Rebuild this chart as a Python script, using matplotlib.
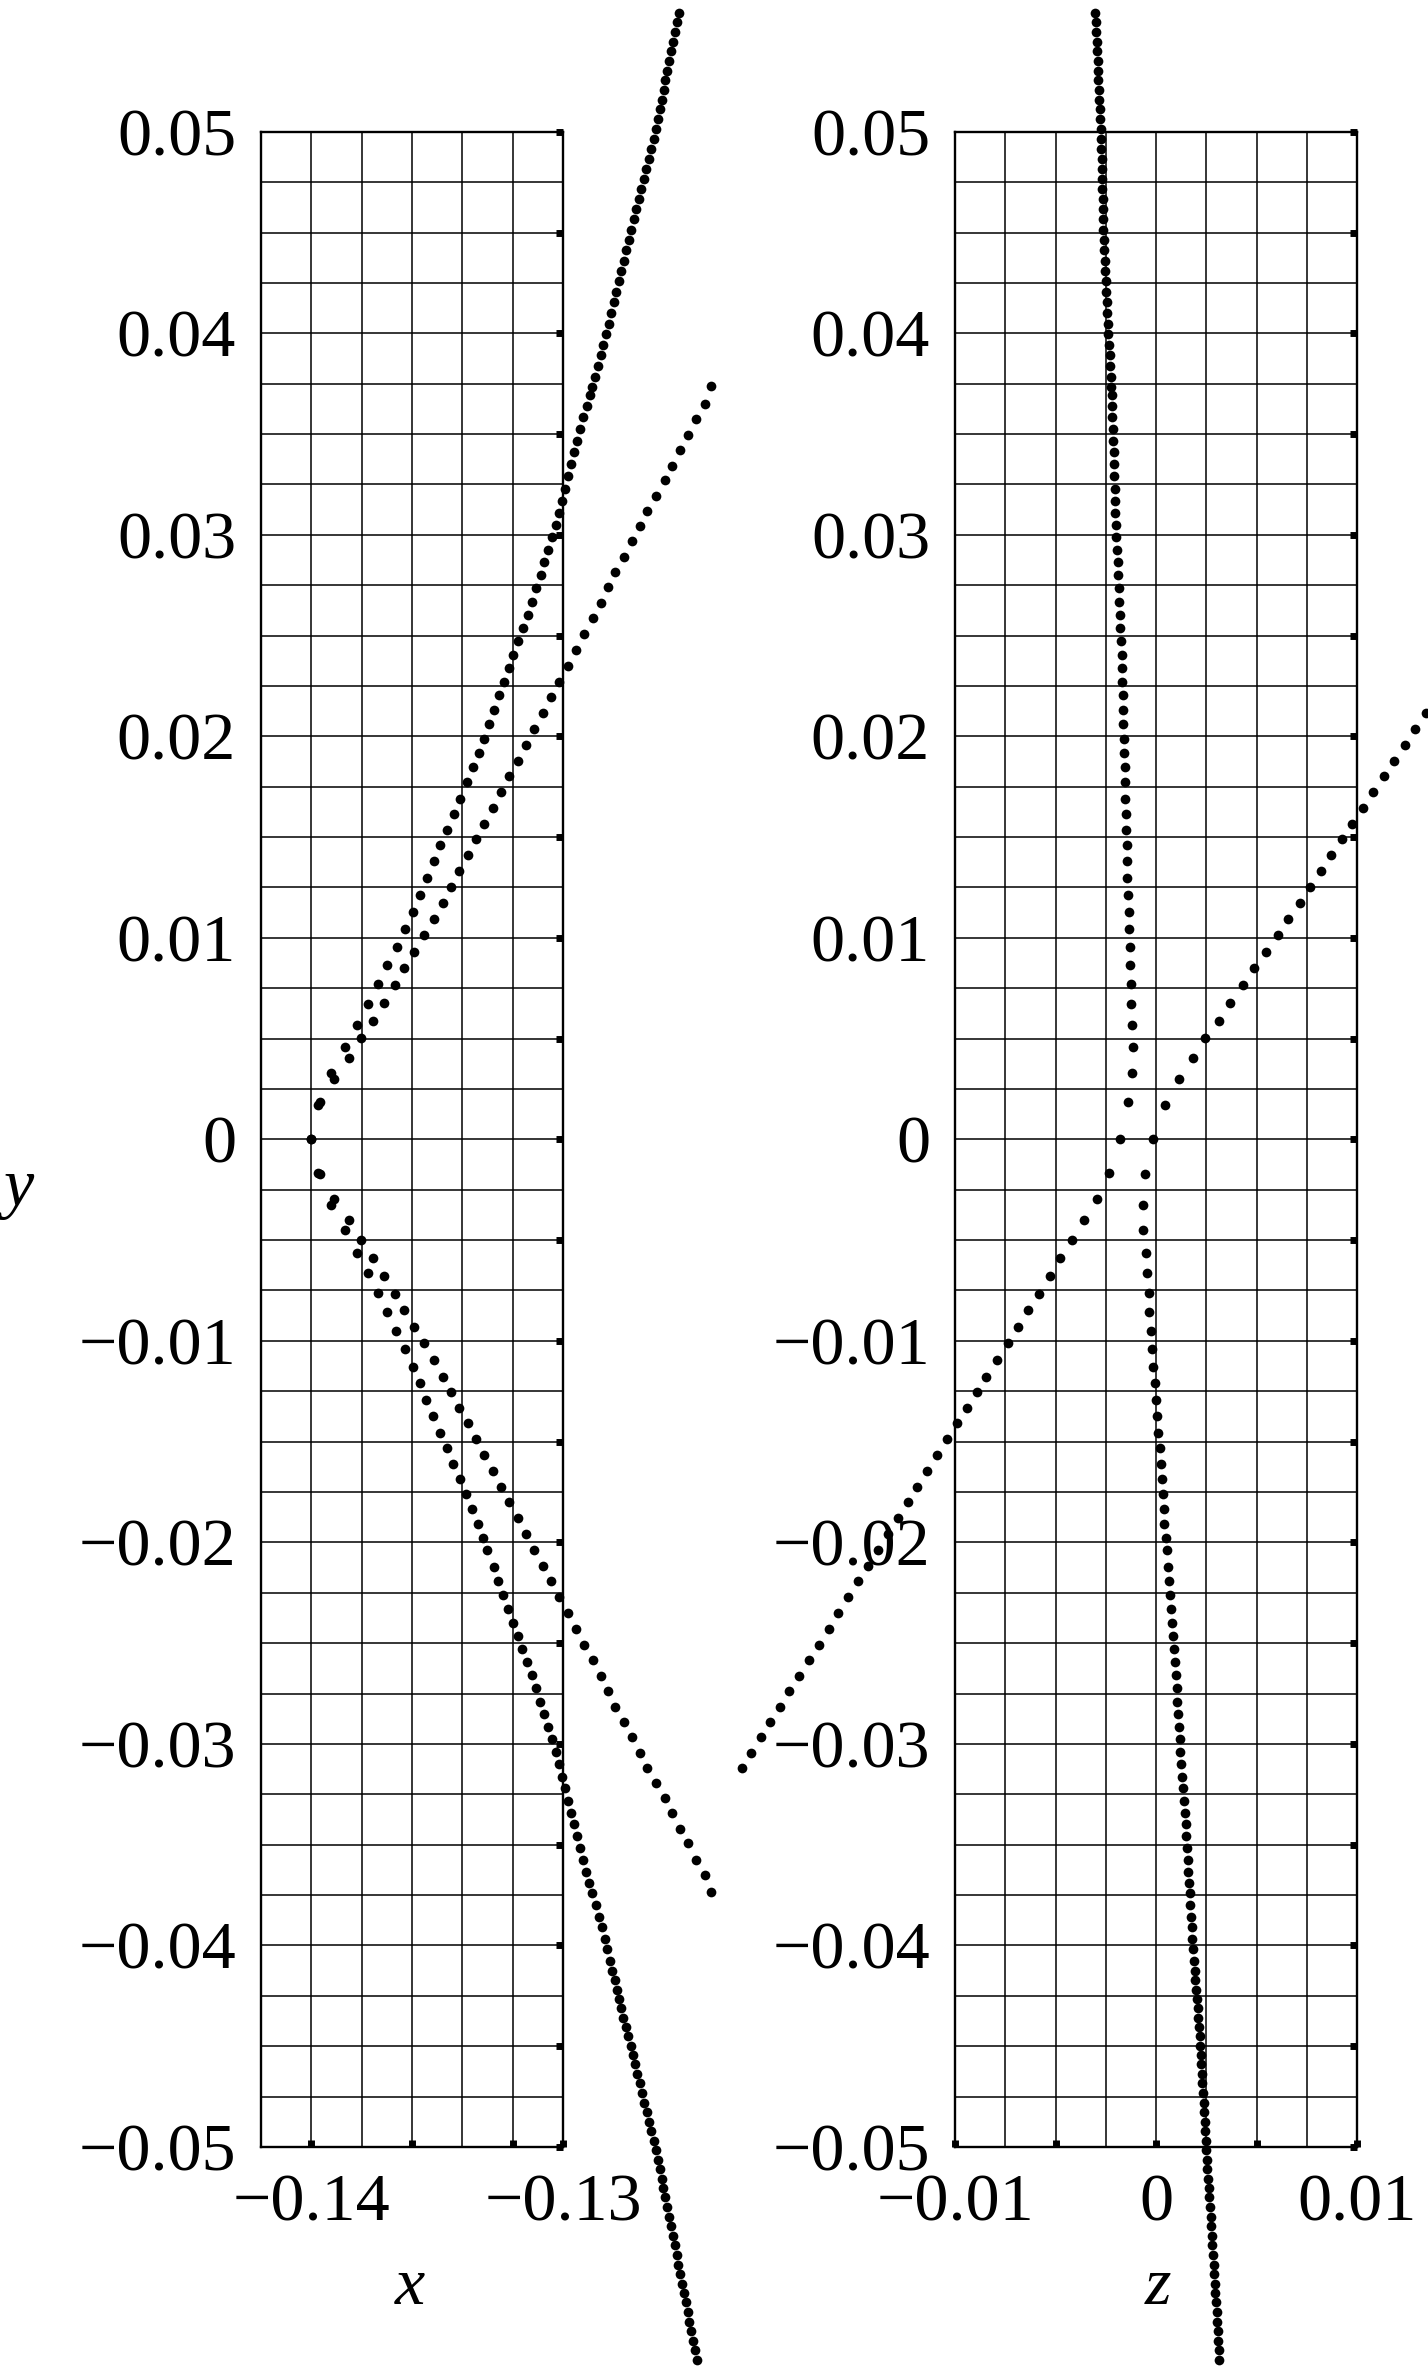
#!/usr/bin/env python3
"""
Two projections of the dotted curves: (x, y) on the left, (z, y) on the right
"""
import numpy as np
import matplotlib
matplotlib.use("Agg")
import matplotlib.pyplot as plt
from matplotlib.ticker import FixedLocator

nan = np.nan

# Dense branch, upper half (top to bottom)
A_UP_Y = [0.05591, 0.05544, 0.05496, 0.05448, 0.05400, 0.05352, 0.05304, 0.05256, 0.05209, 0.05160,
          0.05111, 0.05065, 0.05016, 0.04965, 0.04916, 0.04866, 0.04816, 0.04767, 0.04717, 0.04667,
          0.04618, 0.04565, 0.04515, 0.04465, 0.04412, 0.04361, 0.04310, 0.04258, 0.04206, 0.04154,
          0.04102, 0.04048, 0.03995, 0.03943, 0.03890, 0.03836, 0.03785, 0.03734,
          0.03696, 0.03641, 0.03585, 0.03526, 0.03468, 0.03409, 0.03352, 0.03290, 0.03229, 0.03170,
          0.03109, 0.03047, 0.02988, 0.02926, 0.02863, 0.02801, 0.02734, 0.02668, 0.02602, 0.02538,
          0.02471, 0.02405, 0.02337, 0.02270, 0.02203, 0.02132, 0.02061, 0.01988, 0.01917, 0.01846,
          0.01771,
          0.01690, 0.01616, 0.01536, 0.01459, 0.01381, 0.01298, 0.01215, 0.01129, 0.01045, 0.00957,
          0.00865, 0.00772, 0.00673, 0.00565, 0.00458, 0.00329, 0.00183, 0.0]
A_UP_X = [-0.12541, -0.12548, -0.12556, -0.12563, -0.12571, -0.12578, -0.12586, -0.12593, -0.12600,
          -0.12608, -0.12616, -0.12623, -0.12630,
          -0.12640, -0.12650, -0.12660, -0.12670, -0.12679, -0.12689, -0.12699, -0.12709, -0.12719,
          -0.12729, -0.12739,
          -0.12749, -0.12759, -0.12769, -0.12779, -0.12788, -0.12798, -0.12808, -0.12818, -0.12828,
          -0.12840, -0.12851, -0.12863, -0.12875, -0.12886, -0.12894, -0.12906, -0.12919, -0.12932,
          -0.12944, -0.12956, -0.12967, -0.12980, -0.12992, -0.13004, -0.13016, -0.13028,
          -0.13043, -0.13058, -0.13074, -0.13089, -0.13106, -0.13122,
          -0.13141, -0.13159, -0.13178, -0.13197, -0.13216, -0.13235, -0.13254, -0.13274, -0.13294,
          -0.13315, -0.13335,
          -0.13358, -0.13383, -0.13410, -0.13435, -0.13462, -0.13487, -0.13513, -0.13541, -0.13569,
          -0.13597,
          -0.13629, -0.13660, -0.13698, -0.13734, -0.13774, -0.13819, -0.13865, -0.13923, -0.13964,
          -0.14000]
A_UP_Z = [-0.00303, -0.00301, -0.00298, -0.00296, -0.00294, -0.00291, -0.00289, -0.00287, -0.00284,
          -0.00282, -0.00280, -0.00277, -0.00275,
          -0.00274, -0.00273, -0.00271, -0.00270, -0.00269, -0.00267, -0.00266, -0.00265, -0.00264,
          -0.00262, -0.00260, -0.00258, -0.00255, -0.00253, -0.00250, -0.00247, -0.00245, -0.00242,
          -0.00239, -0.00237, -0.00234, -0.00231, -0.00229, -0.00226, -0.00223,
          -0.00221, -0.00219, -0.00217, -0.00215, -0.00213, -0.00211, -0.00209, -0.00207, -0.00205,
          -0.00203, -0.00202, -0.00199, -0.00197, -0.00194, -0.00191, -0.00188, -0.00186, -0.00183,
          -0.00180, -0.00177, -0.00174, -0.00171, -0.00169, -0.00167, -0.00165, -0.00164, -0.00162,
          -0.00160, -0.00158, -0.00156, -0.00154,
          -0.00153, -0.00149, -0.00148, -0.00146, -0.00144, -0.00143, -0.00139, -0.00136, -0.00133,
          -0.00129, -0.00128, -0.00124, -0.00123, -0.00119, -0.00116, -0.00118, -0.00138, -0.00177]

# Dense branch, lower half
A_LO_Y = [-0.00173, -0.00324, -0.00449, -0.00562, -0.00664, -0.00764, -0.00858, -0.00949, -0.01040,
          -0.01128, -0.01210, -0.01293, -0.01373, -0.01456, -0.01533, -0.01611, -0.01687, -0.01761,
          -0.01836, -0.01910, -0.01980, -0.02038,
          -0.02124, -0.02193, -0.02263, -0.02331, -0.02399, -0.02465, -0.02529, -0.02595, -0.02660,
          -0.02724, -0.02791, -0.02852, -0.02915, -0.02978, -0.03041, -0.03102, -0.03163, -0.03221,
          -0.03281, -0.03342, -0.03400, -0.03458, -0.03519, -0.03577, -0.03635, -0.03690, -0.03742,
          -0.03800, -0.03858, -0.03911, -0.03966, -0.04020,
          -0.04078, -0.04126, -0.04173, -0.04219, -0.04265, -0.04311, -0.04358, -0.04404, -0.04451,
          -0.04499, -0.04545, -0.04591, -0.04639, -0.04685, -0.04732, -0.04780, -0.04826, -0.04874,
          -0.04922, -0.04970, -0.05016, -0.05063, -0.05111, -0.05159, -0.05205, -0.05251, -0.05299,
          -0.05347, -0.05394, -0.05442, -0.05489, -0.05536, -0.05584, -0.05632, -0.05678, -0.05726,
          -0.05772, -0.05821, -0.05867, -0.05915, -0.05963, -0.06009, -0.06055]
A_LO_X = [-0.13964, -0.13924, -0.13867, -0.13818, -0.13776, -0.13736, -0.13698, -0.13662, -0.13629,
          -0.13598, -0.13570, -0.13543, -0.13516, -0.13488, -0.13462, -0.13436, -0.13411, -0.13386,
          -0.13361, -0.13337, -0.13317, -0.13301,
          -0.13276, -0.13257, -0.13237, -0.13218, -0.13199, -0.13180, -0.13162, -0.13143, -0.13125,
          -0.13108, -0.13092, -0.13077, -0.13061, -0.13045, -0.13030, -0.13017, -0.13005, -0.12994,
          -0.12982, -0.12969, -0.12958, -0.12946, -0.12933, -0.12921, -0.12908, -0.12896, -0.12884,
          -0.12871, -0.12858, -0.12847, -0.12835, -0.12824,
          -0.12813, -0.12804, -0.12795, -0.12786, -0.12777, -0.12769, -0.12760, -0.12751, -0.12742,
          -0.12732, -0.12723, -0.12714, -0.12705, -0.12696, -0.12686, -0.12677, -0.12668, -0.12658,
          -0.12649, -0.12639, -0.12630, -0.12623, -0.12616, -0.12608, -0.12601, -0.12594, -0.12586,
          -0.12579, -0.12571, -0.12564, -0.12557, -0.12549, -0.12542, -0.12534, -0.12527, -0.12520,
          -0.12513, -0.12505, -0.12498, -0.12490, -0.12483, -0.12476, -0.12468]
A_LO_Z = [-0.00055, -0.00066, -0.00063, -0.00051, -0.00046, -0.00036, -0.00033, -0.00025, -0.00018,
          -0.00013, -0.00006, 0.00000, 0.00006, 0.00011, 0.00018, 0.00023, 0.00028, 0.00033,
          0.00038, 0.00041, 0.00048, 0.00053,
          0.00058, 0.00065, 0.00068, 0.00075, 0.00078, 0.00084, 0.00089, 0.00094, 0.00098,
          0.00103, 0.00106, 0.00109, 0.00113, 0.00118, 0.00121, 0.00124, 0.00129, 0.00134,
          0.00139, 0.00144, 0.00148, 0.00151, 0.00154, 0.00158, 0.00161, 0.00164, 0.00167,
          0.00170, 0.00174, 0.00177, 0.00180, 0.00185,
          0.00189, 0.00193, 0.00196, 0.00200, 0.00203, 0.00207, 0.00210, 0.00214, 0.00217,
          0.00221, 0.00224, 0.00226, 0.00229, 0.00231, 0.00234, 0.00237, 0.00239, 0.00242,
          0.00244, 0.00247, 0.00250, 0.00252, 0.00256, 0.00259, 0.00262, 0.00265, 0.00268,
          0.00271, 0.00274, 0.00277, 0.00280, 0.00283, 0.00286, 0.00289, 0.00292, 0.00295,
          0.00298, 0.00301, 0.00304, 0.00307, 0.00310, 0.00312, 0.00315]

# Sparse branch, upper half (nan = off the picture in that view)
B_UP_Y = [0.0, 0.00170, 0.00298, 0.00402, 0.00501, 0.00588, 0.00677, 0.00765, 0.00849, 0.00930,
          0.01013, 0.01094, 0.01174,
          0.01252, 0.01331, 0.01409, 0.01488, 0.01566, 0.01644, 0.01723, 0.01801, 0.01880, 0.01958,
          0.02036, 0.02115, 0.02193, 0.02272, 0.02350, 0.02429, 0.02507, 0.02586, 0.02664,
          0.02740, 0.02816, 0.02892, 0.02968, 0.03044, 0.03119, 0.03195, 0.03271, 0.03341, 0.03423,
          0.03493, 0.03574, 0.03650, 0.03736]
B_UP_X = [-0.14000, -0.13973, -0.13912, -0.13851, -0.13801, -0.13756, -0.13711, -0.13669, -0.13630,
          -0.13591, -0.13552, -0.13512, -0.13478,
          -0.13445, -0.13412, -0.13379, -0.13346, -0.13313, -0.13280, -0.13247, -0.13214, -0.13181,
          -0.13148, -0.13115, -0.13081, -0.13048, -0.13015, -0.12982, -0.12949, -0.12916, -0.12883,
          -0.12850,
          -0.12822, -0.12792, -0.12759, -0.12728, -0.12695, -0.12668, -0.12632, -0.12596, -0.12569,
          -0.12536, -0.12505, -0.12473, -0.12436, -0.12414]
B_UP_Z = [-0.00016, 0.00043, 0.00114, 0.00182, 0.00245, 0.00311, 0.00370, 0.00432, 0.00489, 0.00545,
          0.00605, 0.00659, 0.00714,
          0.00766, 0.00819, 0.00871, 0.00924, 0.00976, 0.01028, 0.01081, 0.01133, 0.01186, 0.01238,
          0.01290, 0.01343, nan, nan, nan, nan, nan, nan, nan,
          nan, nan, nan, nan, nan, nan, nan, nan, nan, nan, nan, nan, nan, nan]

# Sparse branch, lower half
B_LO_Y = [-0.00167, -0.00298, -0.00402, -0.00498, -0.00589, -0.00679, -0.00767, -0.00849, -0.00929,
          -0.01012, -0.01094, -0.01177, -0.01252,
          -0.01331, -0.01409, -0.01488, -0.01566, -0.01644, -0.01723, -0.01801, -0.01880, -0.01958,
          -0.02036, -0.02115, -0.02193, -0.02272, -0.02350, -0.02429, -0.02507, -0.02586, -0.02664,
          -0.02740, -0.02816, -0.02892, -0.02968, -0.03044, -0.03119, -0.03195, -0.03271, -0.03341,
          -0.03423, -0.03493, -0.03574, -0.03650, -0.03736]
B_LO_X = [-0.13975, -0.13912, -0.13851, -0.13802, -0.13756, -0.13710, -0.13668, -0.13630, -0.13591,
          -0.13552, -0.13512, -0.13477, -0.13445,
          -0.13412, -0.13379, -0.13346, -0.13313, -0.13280, -0.13247, -0.13214, -0.13181, -0.13148,
          -0.13115, -0.13081, -0.13048, -0.13015, -0.12982, -0.12949, -0.12916, -0.12883, -0.12850,
          -0.12822, -0.12792, -0.12759, -0.12728, -0.12695, -0.12668, -0.12632, -0.12596, -0.12569,
          -0.12536, -0.12505, -0.12473, -0.12436, -0.12414]
B_LO_Z = [-0.00232, -0.00295, -0.00357, -0.00416, -0.00477, -0.00530, -0.00584, -0.00636, -0.00689,
          -0.00739, -0.00791, -0.00845, -0.00893,
          -0.00942, -0.00991, -0.01040, -0.01089, -0.01138, -0.01188, -0.01236, -0.01286, -0.01335,
          -0.01384, -0.01433, -0.01482, -0.01531, -0.01580, -0.01629, -0.01678, -0.01727, -0.01777,
          -0.01824, -0.01871, -0.01919, -0.01966, -0.02014, -0.02061,
          nan, nan, nan, nan, nan, nan, nan, nan]

# Ticks and labels
Y_TICKS = [-0.05, -0.04, -0.03, -0.02, -0.01, 0.0, 0.01, 0.02, 0.03, 0.04, 0.05]
Y_TICK_LABELS = ['\u22120.05', '\u22120.04', '\u22120.03', '\u22120.02', '\u22120.01', '0',
                 '0.01', '0.02', '0.03', '0.04', '0.05']
Y_MINOR = [-0.045, -0.035, -0.025, -0.015, -0.005, 0.005, 0.015, 0.025, 0.035, 0.045]
X1_TICKS = [-0.14, -0.13]
X1_TICK_LABELS = ['\u22120.14', '\u22120.13']
X1_MINOR = [-0.136, -0.132]
X2_TICKS = [-0.01, 0.0, 0.01]
X2_TICK_LABELS = ['\u22120.01', '0', '0.01']
X2_MINOR = [-0.005, 0.005]

plt.rcParams['font.family'] = ['Liberation Serif', 'DejaVu Serif']
FS = 49


def style_axis(ax, xlim, xgrid_step, xticks, xlabels, xminor):
    ax.set_xlim(xlim)
    ax.set_ylim(-0.05, 0.05)
    for v in np.arange(xlim[0], xlim[1] + 1e-9, xgrid_step):
        ax.axvline(v, color='black', lw=1.1, zorder=1)
    for v in np.arange(-0.05, 0.05 + 1e-9, 0.0025):
        ax.axhline(v, color='black', lw=1.1, zorder=1)
    for s in ax.spines.values():
        s.set_linewidth(1.7)
        s.set_zorder(3)
    ax.set_yticks(Y_TICKS)
    ax.set_yticklabels(Y_TICK_LABELS)
    ax.yaxis.set_minor_locator(FixedLocator(Y_MINOR))
    ax.set_xticks(xticks)
    ax.set_xticklabels(xlabels)
    ax.xaxis.set_minor_locator(FixedLocator(xminor))
    ax.tick_params(axis='y', which='both', left=False, right=True, labelleft=True,
                   labelright=False, direction='in', length=5, width=5, pad=18, labelsize=FS)
    ax.tick_params(axis='x', which='both', bottom=True, top=False, direction='in',
                   length=5, width=5, pad=19, labelsize=FS)


fig = plt.figure(figsize=(14.28, 23.66), dpi=100)
ax1 = fig.add_axes([0.1828, 0.0926, 0.2115, 0.8517])
ax2 = fig.add_axes([0.6688, 0.0926, 0.2815, 0.8517])

style_axis(ax1, (-0.142, -0.13), 0.002, X1_TICKS, X1_TICK_LABELS, X1_MINOR)
style_axis(ax2, (-0.01, 0.01), 0.0025, X2_TICKS, X2_TICK_LABELS, X2_MINOR)

dot = dict(linestyle='none', marker='o', color='black', ms=7, mew=0, clip_on=False, zorder=5)
for xs, ys in [(A_UP_X, A_UP_Y), (A_LO_X, A_LO_Y), (B_UP_X, B_UP_Y), (B_LO_X, B_LO_Y)]:
    ax1.plot(xs, ys, **dot)
for zs, ys in [(A_UP_Z, A_UP_Y), (A_LO_Z, A_LO_Y), (B_UP_Z, B_UP_Y), (B_LO_Z, B_LO_Y)]:
    ax2.plot(zs, ys, **dot)

# axis letters
fig.text(19 / 1428, 1 - 1190 / 2366, 'y', fontsize=FS, style='italic', ha='center', va='center')
fig.text(410 / 1428, 1 - 2287 / 2366, 'x', fontsize=FS, style='italic', ha='center', va='center')
fig.text(1158 / 1428, 1 - 2287 / 2366, 'z', fontsize=FS, style='italic', ha='center', va='center')

fig.savefig('out.png', dpi=100)
